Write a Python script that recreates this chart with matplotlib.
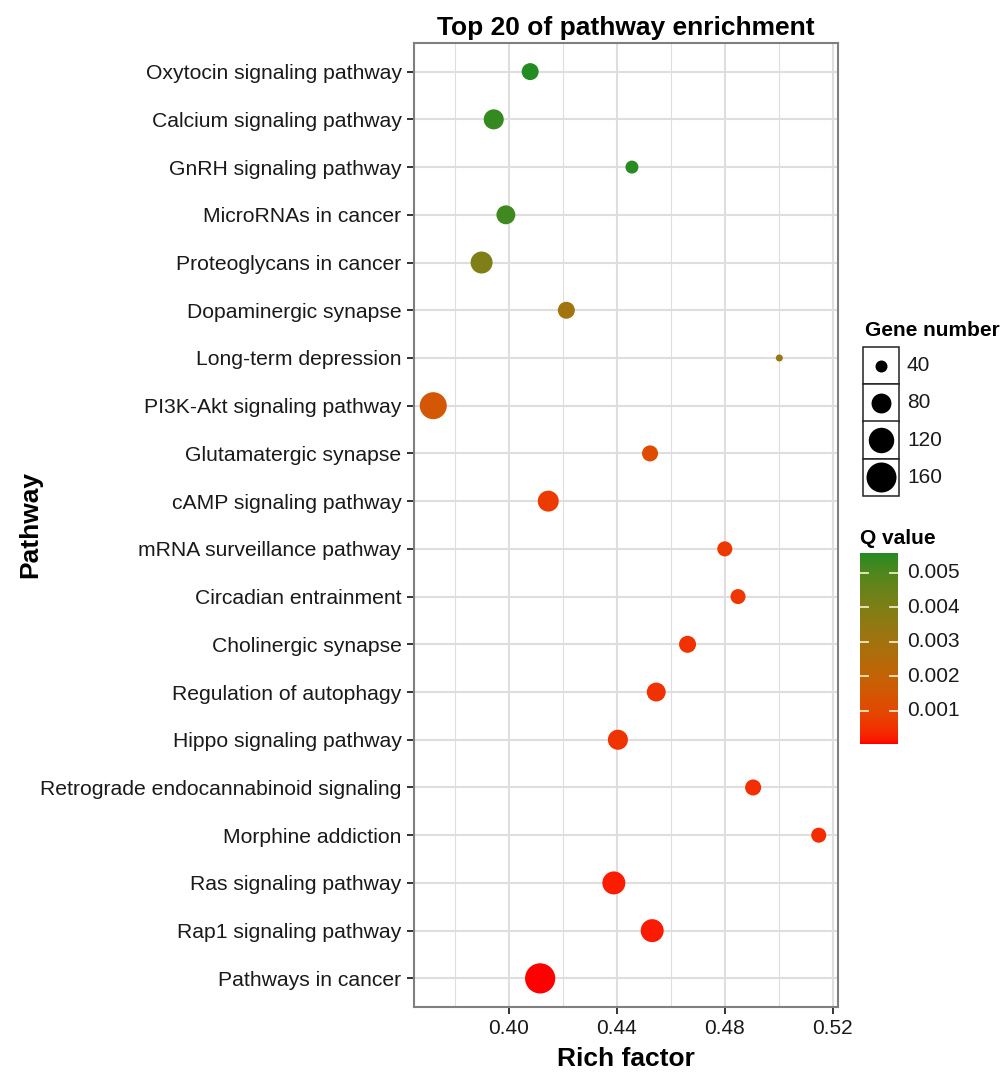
import numpy as np
import matplotlib
matplotlib.use("Agg")
import matplotlib.pyplot as plt
from matplotlib.colors import ListedColormap, Normalize
from matplotlib.patches import Rectangle
import matplotlib.transforms as mtransforms

plt.rcParams['font.family'] = ['Liberation Sans', 'DejaVu Sans']

# ---------------- data ----------------
pathways = [
    "Oxytocin signaling pathway",
    "Calcium signaling pathway",
    "GnRH signaling pathway",
    "MicroRNAs in cancer",
    "Proteoglycans in cancer",
    "Dopaminergic synapse",
    "Long-term depression",
    "PI3K-Akt signaling pathway",
    "Glutamatergic synapse",
    "cAMP signaling pathway",
    "mRNA surveillance pathway",
    "Circadian entrainment",
    "Cholinergic synapse",
    "Regulation of autophagy",
    "Hippo signaling pathway",
    "Retrograde endocannabinoid signaling",
    "Morphine addiction",
    "Ras signaling pathway",
    "Rap1 signaling pathway",
    "Pathways in cancer",
]
rich_factor = [0.4079, 0.3944, 0.4456, 0.3989, 0.3899, 0.4213, 0.5002, 0.3720,
               0.4523, 0.4146, 0.4800, 0.4849, 0.4662, 0.4546, 0.4404, 0.4905,
               0.5148, 0.4389, 0.4531, 0.4116]
gene_number = [63, 81, 44, 74, 94, 63, 25, 133, 58, 87, 53, 53, 63, 74, 81, 58,
               53, 101, 101, 162]
q_value = [0.00558, 0.00540, 0.00550, 0.00525, 0.00400, 0.00300, 0.00330, 0.00150,
           0.00110, 0.00065, 0.00060, 0.00060, 0.00050, 0.00050, 0.00055, 0.00045,
           0.00040, 0.00022, 0.00020, 0.00004]
size_breaks = [40, 80, 120, 160]
q_ticks = [0.001, 0.002, 0.003, 0.004, 0.005]
x_ticks = [0.40, 0.44, 0.48, 0.52]
x_minor = [0.38, 0.42, 0.46, 0.50]

# ---------------- colour scale (Lab interpolation like ggplot) ----------------
def _srgb_to_lab(rgb):
    rgb = np.asarray(rgb, float)
    lin = np.where(rgb <= 0.04045, rgb / 12.92, ((rgb + 0.055) / 1.055) ** 2.4)
    M = np.array([[0.4124, 0.3576, 0.1805], [0.2126, 0.7152, 0.0722], [0.0193, 0.1192, 0.9505]])
    xyz = M @ lin
    wp = np.array([0.95047, 1.0, 1.08883])
    t = xyz / wp
    f = np.where(t > (6 / 29) ** 3, np.cbrt(t), t / (3 * (6 / 29) ** 2) + 4 / 29)
    return np.array([116 * f[1] - 16, 500 * (f[0] - f[1]), 200 * (f[1] - f[2])])

def _lab_to_srgb(lab):
    L, a, b = lab
    fy = (L + 16) / 116
    fx = fy + a / 500
    fz = fy - b / 200
    def finv(f):
        return np.where(f > 6 / 29, f ** 3, 3 * (6 / 29) ** 2 * (f - 4 / 29))
    wp = np.array([0.95047, 1.0, 1.08883])
    xyz = np.array([finv(fx), finv(fy), finv(fz)]) * wp
    Minv = np.array([[3.2406, -1.5372, -0.4986], [-0.9689, 1.8758, 0.0415], [0.0557, -0.2040, 1.0570]])
    lin = Minv @ xyz
    lin = np.clip(lin, 0, 1)
    srgb = np.where(lin <= 0.0031308, 12.92 * lin, 1.055 * lin ** (1 / 2.4) - 0.055)
    return np.clip(srgb, 0, 1)

low = np.array([1.0, 0.0, 0.0])
high = np.array([0x22, 0x8B, 0x22]) / 255.0
lab_lo, lab_hi = _srgb_to_lab(low), _srgb_to_lab(high)
cols = [_lab_to_srgb(lab_lo + (lab_hi - lab_lo) * t) for t in np.linspace(0, 1, 256)]
cmap = ListedColormap(cols)
norm = Normalize(vmin=min(q_value), vmax=max(q_value))

# size mapping: area linear in gene number (like ggplot scale_size)
def size_pt2(n):
    n = np.asarray(n, float)
    d_px = np.sqrt(144 + 6.3 * (n - 40))
    return (d_px * 0.72) ** 2

# ---------------- figure ----------------
W, H = 1004, 1076
fig = plt.figure(figsize=(W / 100, H / 100), dpi=100)

def px_axes(x0, y0, x1, y1):
    return fig.add_axes([x0 / W, 1 - y1 / H, (x1 - x0) / W, (y1 - y0) / H])

ax = px_axes(414, 43, 838, 1007)
n = len(pathways)
ypos = np.arange(n, 0, -1)

rng = max(rich_factor) - min(rich_factor)
ax.set_xlim(min(rich_factor) - 0.05 * rng, max(rich_factor) + 0.05 * rng)
ax.set_ylim(0.4, n + 0.6)

grid_c = '#dedede'
for xv in x_ticks:
    ax.axvline(xv, color=grid_c, lw=1.5, zorder=0)
for xv in x_minor:
    ax.axvline(xv, color=grid_c, lw=0.8, zorder=0)
for yv in ypos:
    ax.axhline(yv, color=grid_c, lw=1.5, zorder=0)

ax.scatter(rich_factor, ypos, s=size_pt2(gene_number), c=q_value, cmap=cmap, norm=norm,
           linewidths=0, zorder=3)

ax.set_yticks(ypos)
ax.set_yticklabels(pathways, fontsize=15.2, color='#1a1a1a')
ax.set_xticks(x_ticks)
ax.set_xticklabels([f"{v:.2f}" for v in x_ticks], fontsize=15, color='#1a1a1a')
ax.tick_params(axis='both', length=5, width=1.4, color='#333333', pad=4)
for sp in ax.spines.values():
    sp.set_color('#7f7f7f')
    sp.set_linewidth(1.5)

ax.set_title("Top 20 of pathway enrichment", fontsize=19, fontweight='bold', pad=6)
ax.set_xlabel("Rich factor", fontsize=19, fontweight='bold', labelpad=6)
fig.text(30 / W, 1 - 524 / H, "Pathway", rotation=90, fontsize=19, fontweight='bold',
         ha='center', va='center')

# ---------------- size legend ----------------
lax = px_axes(863, 347, 899, 496)
lax.set_xlim(0, 1)
lax.set_ylim(0, len(size_breaks))
lax.axis('off')
for i, b in enumerate(size_breaks):
    yc = len(size_breaks) - i - 0.5
    lax.add_patch(Rectangle((0, yc - 0.5), 1, 1, facecolor='white', edgecolor='#222222',
                            lw=1.1, clip_on=False))
    lax.scatter([0.5], [yc], s=size_pt2([b]), color='black', linewidths=0, zorder=3,
                clip_on=False)
    fig.text(907 / W, 1 - (347 + (i + 0.5) * 37.25) / H, str(b), fontsize=15,
             ha='left', va='center', color='#1a1a1a')
fig.text(865 / W, 1 - 330 / H, "Gene number", fontsize=15, fontweight='bold',
         ha='left', va='center')

# ---------------- colour bar ----------------
cax = px_axes(860, 553, 898, 744)
grad = np.linspace(min(q_value), max(q_value), 256).reshape(-1, 1)
cax.imshow(grad, aspect='auto', cmap=cmap, norm=norm, origin='lower',
           extent=[0, 1, min(q_value), max(q_value)])
cax.set_xlim(0, 1)
cax.set_ylim(min(q_value), max(q_value))
cax.set_xticks([])
cax.set_yticks([])
for sp in cax.spines.values():
    sp.set_visible(False)
tr = mtransforms.blended_transform_factory(cax.transAxes, cax.transData)
for t in q_ticks:
    cax.plot([0, 0.2], [t, t], color='#fff3d6', lw=1.3, alpha=0.9, transform=tr)
    cax.plot([0.8, 1.0], [t, t], color='#fff3d6', lw=1.3, alpha=0.9, transform=tr)
fig.canvas.draw()
for t in q_ticks:
    ydisp = cax.transData.transform((0.5, t))[1]
    fig.text(907 / W, ydisp / fig.bbox.height, f"{t:.3f}", fontsize=15, ha='left',
             va='center', color='#1a1a1a')
fig.text(860 / W, 1 - 538 / H, "Q value", fontsize=15, fontweight='bold',
         ha='left', va='center')

fig.savefig("out.png", dpi=100, facecolor='white')
